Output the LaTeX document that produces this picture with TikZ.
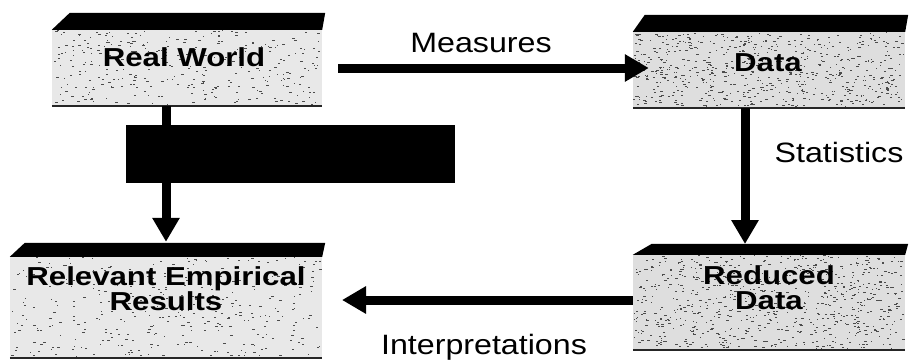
\documentclass[tikz,border=0pt]{standalone}
\usepackage{fontspec}
\setmainfont{Liberation Sans}
\newfontfamily\lblfont[FakeStretch=1.15]{Liberation Sans}
\newfontfamily\boxfont[FakeStretch=1.2]{Liberation Sans}
\usetikzlibrary{arrows.meta}
\tikzset{
  body/.style={fill=black!9, inner sep=0pt, draw=none},
  boxtext/.style={font=\boxfont\bfseries\fontsize{26}{25}\selectfont, align=center, text=black, inner sep=0pt},
  topbar/.style={fill=black},
  bottomline/.style={draw=black!85, line width=1.6pt},
  arr/.style={line width=9pt, -{Triangle[length=24pt,width=26pt]}},
  lbl/.style={font=\lblfont\fontsize{28}{30}\selectfont, anchor=base, inner sep=0pt},
  speck/.style={fill=black!70}
}
\begin{document}
\begin{tikzpicture}[x=1pt,y=-1pt]
\useasboundingbox (0,0) rectangle (910,362);
\pgfmathsetseed{11}
% box bodies
\node[body, minimum width=270pt, minimum height=76pt] (rw) at (187,68) {};
\node[body, fill=black!13, minimum width=272pt, minimum height=76pt] (data) at (769,70) {};
\node[body, minimum width=312pt, minimum height=101pt] (rel) at (166,307.5) {};
\node[body, fill=black!13, minimum width=272pt, minimum height=95pt] (red) at (769,302.5) {};
% speckles
\foreach \i in {1,...,330} \fill[speck] ({52+268*rnd},{30+74*rnd}) rectangle ++({0.8+2.2*rnd},1);
\foreach \i in {1,...,650} \fill[speck] ({633+270*rnd},{32+74*rnd}) rectangle ++({0.8+2.2*rnd},1);
\foreach \i in {1,...,380} \fill[speck] ({10+310*rnd},{257+99*rnd}) rectangle ++({0.8+2.2*rnd},1);
\foreach \i in {1,...,750} \fill[speck] ({633+270*rnd},{255+93*rnd}) rectangle ++({0.8+2.2*rnd},1);
% top bars
\fill[topbar] (rw.north west) -- ++(18,-17) -- ([shift={(3,-17)}]rw.north east) -- (rw.north east) -- cycle;
\fill[topbar] (data.north west) -- ++(12,-17) -- ([shift={(3,-17)}]data.north east) -- (data.north east) -- cycle;
\fill[topbar] (rel.north west) -- ++(15,-14) -- ([shift={(3,-14)}]rel.north east) -- (rel.north east) -- cycle;
\fill[topbar] (red.north west) -- ++(19,-11) -- ([shift={(3,-11)}]red.north east) -- (red.north east) -- cycle;
% bottom lines
\draw[bottomline] (rw.south west) -- (rw.south east);
\draw[bottomline] (data.south west) -- (data.south east);
\draw[bottomline] (rel.south west) -- (rel.south east);
\draw[bottomline] (red.south west) -- (red.south east);
% box texts
\node[boxtext] (rwt) at (184,57) {Real World};
\node[boxtext] (datat) at (768,63) {Data};
\node[boxtext] (relt) at (166,289) {Relevant Empirical\\Results};
\node[boxtext] (redt) at (769,288) {Reduced\\Data};
% connector coordinates
\coordinate (redbar) at (769,244);
\coordinate (itip) at (342,300);
\coordinate (s1) at ([xshift=-24pt]data.south);
% arrows
\draw[arr] (rw.south -| rel.north) -- ([yshift=15pt]rel.north);
\draw[arr] ([xshift=16pt]rw.east) -- ([xshift=16pt]rw.east -| data.west);
\draw[arr] (s1) -- (s1 |- redbar);
\draw[arr] (red.west |- itip) -- (itip);
% black rectangle
\node[fill=black, minimum width=329pt, minimum height=58pt, inner sep=0pt] (blk) at (290.5,154) {};
% labels
\node[lbl] (meas) at (481,52) {Measures};
\node[lbl] (stat) at (839,162) {Statistics};
\node[lbl] (interp) at (484,354) {Interpretations};
\end{tikzpicture}
\end{document}
